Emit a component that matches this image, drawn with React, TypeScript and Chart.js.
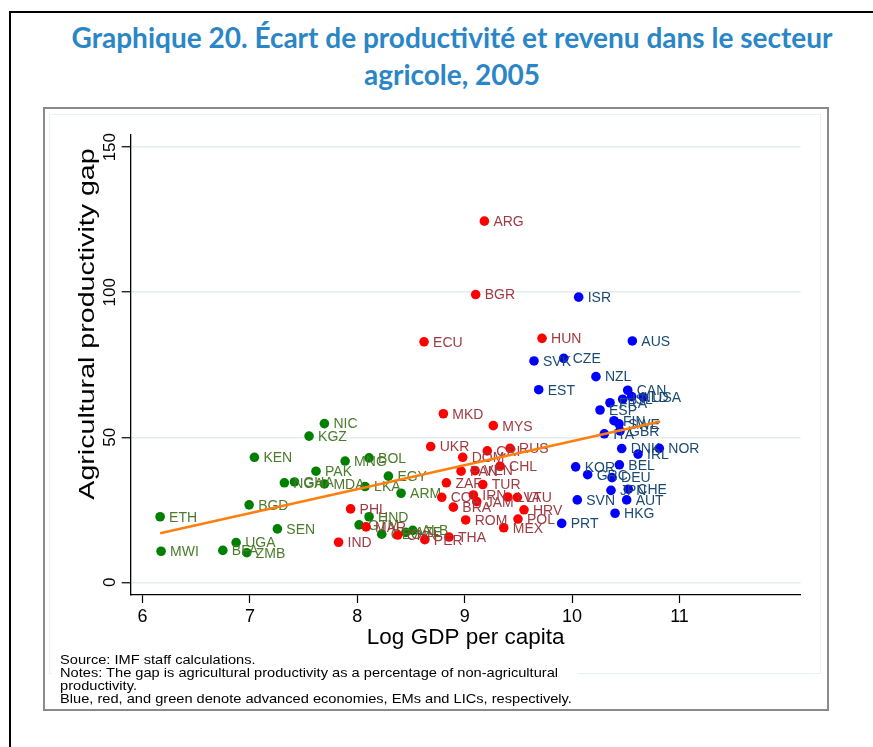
import React, { useEffect, useRef } from "react";
import { Chart, registerables } from "chart.js";

Chart.register(...registerables);

// ---------- Data ----------
// Advanced economies (blue)
const advLabels = ["ISR", "AUS", "CZE", "SVK", "NZL", "EST", "CAN", "FRA", "ISL", "NLD", "USA", "ESP", "FIN", "SWE", "ITA", "GBR", "DNK", "NOR", "IRL", "BEL", "KOR", "GRC", "DEU", "JPN", "CHE", "AUT", "SVN", "HKG", "PRT"];
const advX = [10.061, 10.561, 9.922, 9.645, 10.222, 9.689, 10.518, 10.353, 10.471, 10.555, 10.663, 10.26, 10.39, 10.437, 10.3, 10.446, 10.462, 10.812, 10.614, 10.44, 10.033, 10.145, 10.372, 10.362, 10.523, 10.508, 10.048, 10.4, 9.903];
const advY = [98.3, 83.2, 77.2, 76.3, 70.9, 66.4, 66.2, 61.9, 63.1, 64.0, 63.8, 59.4, 55.7, 54.6, 51.2, 52.2, 46.1, 46.2, 44.2, 40.5, 39.8, 37.1, 36.1, 31.7, 32.1, 28.4, 28.4, 23.8, 20.3];

// Emerging markets (red)
const emLabels = ["ARG", "BGR", "ECU", "HUN", "MKD", "MYS", "UKR", "CRI", "RUS", "DOM", "PAN", "VEN", "CHL", "ZAF", "TUR", "COL", "IRN", "JAM", "BRA", "LVA", "LTU", "HRV", "POL", "ROM", "MEX", "THA", "PER", "CHN", "MAR", "PHL", "IND"];
const emX = [9.183, 9.102, 8.621, 9.72, 8.801, 9.266, 8.683, 9.21, 9.422, 8.981, 8.966, 9.096, 9.329, 8.829, 9.168, 8.786, 9.08, 9.112, 8.894, 9.4, 9.49, 9.552, 9.496, 9.009, 9.363, 8.854, 8.628, 8.376, 8.081, 7.937, 7.825];
const emY = [124.5, 99.2, 82.9, 84.1, 58.1, 54.0, 46.8, 45.3, 46.2, 43.1, 38.3, 38.5, 40.0, 34.3, 33.7, 29.3, 30.1, 27.8, 25.9, 29.4, 29.3, 25.0, 21.8, 21.5, 18.8, 15.6, 14.7, 16.3, 19.1, 25.3, 13.8];

// Low-income countries (green)
const licLabels = ["NIC", "KGZ", "KEN", "MNG", "BOL", "PAK", "NGA", "GHA", "MDA", "LKA", "EGY", "ARM", "BGD", "ETH", "HND", "GTM", "GEO", "AZE", "ALB", "SEN", "UGA", "BFA", "ZMB", "MWI"];
const licX = [7.693, 7.55, 7.041, 7.886, 8.109, 7.615, 7.32, 7.414, 7.693, 8.072, 8.289, 8.407, 6.992, 6.163, 8.109, 8.016, 8.227, 8.451, 8.516, 7.255, 6.871, 6.747, 6.97, 6.172];
const licY = [54.7, 50.4, 43.1, 41.8, 42.9, 38.3, 34.3, 34.6, 33.9, 33.0, 36.6, 30.7, 26.7, 22.6, 22.6, 19.8, 16.6, 17.2, 17.9, 18.4, 13.7, 11.0, 10.2, 10.7];

// Linear fit (endpoints)
const fitX = [6.163, 10.82];
const fitY = [16.9, 55.4];

const xTicks = [6, 7, 8, 9, 10, 11];
const yTicks = [0, 50, 100, 150];

const FONT = "'Liberation Sans', Arial, sans-serif";

const toPts = (xs: number[], ys: number[]) => xs.map((x, i) => ({ x, y: ys[i] }));

const labelPlugin = {
  id: "pointLabels",
  afterDatasetDraw(chart: any, args: any) {
    const ds: any = chart.data.datasets[args.index];
    if (!ds.pointNames) return;
    const ctx = chart.ctx;
    ctx.save();
    ctx.font = `14px ${FONT}`;
    ctx.fillStyle = ds.labelColor;
    ctx.textBaseline = "middle";
    ctx.textAlign = "left";
    args.meta.data.forEach((el: any, i: number) => {
      ctx.fillText(ds.pointNames[i], el.x + 9, el.y + 1);
    });
    ctx.restore();
  },
};

export default function App() {
  const ref = useRef<HTMLCanvasElement>(null);

  useEffect(() => {
    if (!ref.current) return;
    const chart = new Chart(ref.current, {
      type: "scatter",
      data: {
        datasets: [
          {
            type: "line",
            label: "Fit",
            data: toPts(fitX, fitY),
            borderColor: "#ff7f0e",
            borderWidth: 2.5,
            pointRadius: 0,
            fill: false,
          } as any,
          {
            label: "Advanced",
            data: toPts(advX, advY),
            backgroundColor: "#0000ff",
            borderWidth: 0,
            pointRadius: 4.8,
            pointNames: advLabels,
            labelColor: "#1a4a72",
          } as any,
          {
            label: "EMs",
            data: toPts(emX, emY),
            backgroundColor: "#ff0000",
            borderWidth: 0,
            pointRadius: 4.8,
            pointNames: emLabels,
            labelColor: "#9e3a42",
          } as any,
          {
            label: "LICs",
            data: toPts(licX, licY),
            backgroundColor: "#008000",
            borderWidth: 0,
            pointRadius: 4.8,
            pointNames: licLabels,
            labelColor: "#4b7b2b",
          } as any,
        ],
      },
      options: {
        animation: false,
        responsive: false,
        devicePixelRatio: 1,
        layout: { padding: { left: 0, top: 26, right: 26.4, bottom: 0 } },
        plugins: {
          legend: { display: false },
          tooltip: { enabled: false },
          title: { display: false },
        },
        scales: {
          x: {
            type: "linear",
            min: 5.889,
            max: 12.128,
            afterBuildTicks: (s: any) => {
              s.ticks = xTicks.map((v) => ({ value: v }));
            },
            afterFit: (s: any) => {
              s.height = 114;
            },
            grid: {
              display: true,
              drawOnChartArea: false,
              drawTicks: true,
              tickLength: 8,
              tickColor: "#000",
              tickWidth: 1.2,
            },
            border: { display: true, color: "#000", width: 1.3 },
            ticks: {
              autoSkip: false,
              maxRotation: 0,
              padding: 3,
              color: "#000",
              font: { size: 18, family: FONT },
              callback: (v: any) => String(v),
            },
            title: {
              display: true,
              text: "Log GDP per capita",
              color: "#000",
              font: { size: 22.5, family: FONT },
              padding: { top: 0, bottom: 58 },
            },
          },
          y: {
            type: "linear",
            min: -4.38,
            max: 154.2,
            afterBuildTicks: (s: any) => {
              s.ticks = yTicks.map((v) => ({ value: v }));
            },
            afterFit: (s: any) => {
              s.width = 85.7;
            },
            grid: {
              display: true,
              color: "#e3ecf0",
              lineWidth: 1.5,
              drawTicks: true,
              tickLength: 9,
              tickColor: "#000",
              tickWidth: 1.2,
            },
            border: { display: true, color: "#000", width: 1.3 },
            ticks: {
              autoSkip: false,
              minRotation: 90,
              maxRotation: 90,
              crossAlign: "center",
              padding: -3,
              color: "#000",
              font: { size: 17, family: FONT },
              callback: (v: any) => String(v),
            },
            title: { display: false },
          },
        },
      } as any,
      plugins: [labelPlugin],
    });
    return () => chart.destroy();
  }, []);

  return (
    <div
      style={{
        position: "absolute",
        left: 0,
        top: 0,
        width: 873,
        height: 747,
        background: "#fff",
        overflow: "hidden",
        fontFamily: FONT,
      }}
    >
      <div
        style={{
          position: "absolute",
          left: 9,
          top: 11,
          width: 900,
          height: 800,
          borderLeft: "2px solid #000",
          borderTop: "2px solid #000",
        }}
      />
      <div
        style={{
          position: "absolute",
          left: 20,
          top: 19,
          width: 864,
          textAlign: "center",
          color: "#2a86c6",
          fontFamily: "Lato, 'Open Sans', sans-serif",
          fontWeight: 700,
          fontSize: 28,
          lineHeight: "37px",
        }}
      >
        Graphique 20. Écart de productivité et revenu dans le secteur
        <br />
        agricole, 2005
      </div>
      <div
        style={{
          position: "absolute",
          left: 43,
          top: 107,
          width: 786,
          height: 604,
          border: "2px solid #8a8a8a",
          boxSizing: "border-box",
        }}
      />
      <div
        style={{
          position: "absolute",
          left: 49,
          top: 114,
          width: 772,
          height: 560,
          border: "1px solid #eaf1f4",
          boxSizing: "border-box",
        }}
      />
      <canvas
        ref={ref}
        width={782}
        height={600}
        style={{ position: "absolute", left: 45, top: 109, width: 782, height: 600 }}
      />
      <div
        style={{
          position: "absolute",
          left: 87 - 220,
          top: 323.5 - 13,
          width: 440,
          height: 26,
          lineHeight: "26px",
          textAlign: "center",
          fontSize: 22,
          color: "#000",
          fontFamily: FONT,
          whiteSpace: "nowrap",
          transformOrigin: "50% 50%",
          transform: "rotate(-90deg) scaleX(1.3)",
        }}
      >
        Agricultural productivity gap
      </div>
      <div
        style={{
          position: "absolute",
          left: 52,
          top: 653,
          width: 526,
          height: 55,
          background: "#fff",
        }}
      />
      <div
        style={{
          position: "absolute",
          left: 60,
          top: 653,
          color: "#000",
          fontSize: 13,
          lineHeight: "13px",
          fontFamily: FONT,
          whiteSpace: "nowrap",
          transformOrigin: "0 0",
          transform: "scaleX(1.125)",
        }}
      >
        <div>Source: IMF staff calculations.</div>
        <div>Notes: The gap is agricultural productivity as a percentage of non-agricultural</div>
        <div>productivity.</div>
        <div>Blue, red, and green denote advanced economies, EMs and LICs, respectively.</div>
      </div>
    </div>
  );
}
